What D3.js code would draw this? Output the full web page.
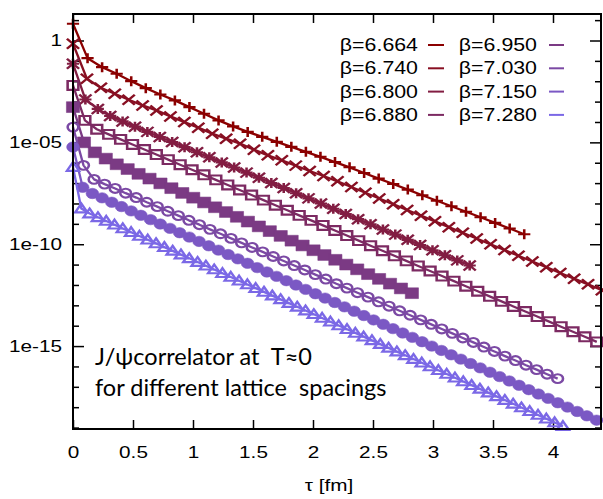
<!DOCTYPE html>
<html>
<head>
<meta charset="utf-8">
<script src="https://cdn.jsdelivr.net/npm/d3@7"></script>
<style>
  body { margin: 0; background: #fff; }
  svg { display: block; }
  text { white-space: pre; }
</style>
</head>
<body>
<svg id="chart" width="603" height="499"></svg>
<script>
// Gauge couplings of the zero-temperature ensembles
const betas = ["6.664", "6.740", "6.800", "6.880", "6.950", "7.030", "7.150", "7.280"];

// Lattice spacing a [fm] of each ensemble; the correlator is sampled at tau = n*a
const latticeSpacing = [0.1213, 0.1160, 0.1033, 0.0992, 0.0911, 0.0878, 0.0808, 0.0692];

// J/psi correlators G(tau) (rescaled per ensemble for readability)
const corr6664 = [6.59, 1.36e-1, 4.91e-2, 2.33e-2, 1.01e-2, 4.59e-3, 2.25e-3, 1.15e-3, 5.37e-4, 2.55e-4,
  1.20e-4, 6.08e-5, 3.27e-5, 1.86e-5, 1.06e-5, 6.01e-6, 3.42e-6, 1.95e-6, 1.08e-6, 5.96e-7,
  3.13e-7, 1.66e-7, 9.04e-8, 4.80e-8, 2.52e-8, 1.36e-8, 7.30e-9, 3.92e-9, 2.11e-9, 1.11e-9,
  5.89e-10, 3.09e-10];
const corr6740 = [0.689, 1.33e-2, 4.80e-3, 2.44e-3, 1.24e-3, 6.51e-4, 3.71e-4, 1.88e-4, 9.89e-5, 5.26e-5,
  2.67e-5, 1.52e-5, 8.63e-6, 4.39e-6, 2.31e-6, 1.31e-6, 7.21e-7, 3.92e-7, 2.23e-7, 1.22e-7,
  6.44e-8, 3.35e-8, 1.76e-8, 9.25e-9, 4.80e-9, 2.52e-9, 1.33e-9, 6.89e-10, 3.62e-10, 1.90e-10,
  9.89e-11, 5.20e-11, 2.70e-11, 1.42e-11, 7.46e-12, 3.87e-12, 2.04e-12, 1.07e-12, 5.56e-13];
const corr6800 = [7.21e-2, 1.28e-3, 4.39e-4, 1.99e-4, 1.07e-4, 5.89e-5, 3.27e-5, 1.84e-5, 1.04e-5, 5.82e-6,
  3.27e-6, 1.84e-6, 1.04e-6, 5.82e-7, 3.27e-7, 1.84e-7, 1.02e-7, 5.75e-8, 3.20e-8, 1.78e-8,
  9.89e-9, 5.50e-9, 3.05e-9, 1.70e-9, 9.44e-10, 5.26e-10, 2.96e-10, 1.64e-10, 9.14e-11, 5.08e-11,
  2.86e-11, 1.61e-11, 9.04e-12];
const corr6880 = [6.22e-3, 1.20e-4, 4.41e-5, 2.48e-5, 1.40e-5, 7.91e-6, 4.47e-6, 2.52e-6, 1.42e-6, 8.02e-7,
  4.53e-7, 2.55e-7, 1.44e-7, 8.13e-8, 4.59e-8, 2.59e-8, 1.46e-8, 8.24e-9, 4.66e-9, 2.62e-9,
  1.48e-9, 8.36e-10, 4.72e-10, 2.66e-10, 1.50e-10, 8.47e-11, 4.79e-11, 2.70e-11, 1.52e-11, 8.59e-12,
  4.85e-12, 2.74e-12, 1.55e-12, 8.71e-13, 4.92e-13, 2.77e-13, 1.57e-13, 8.83e-14, 4.99e-14, 2.81e-14,
  1.59e-14, 8.95e-15, 5.06e-15, 2.85e-15, 1.61e-15];
const corr6950 = [5.37e-4, 1.00e-5, 3.24e-6, 1.59e-6, 8.38e-7, 4.89e-7, 2.85e-7, 1.66e-7, 9.68e-8, 5.64e-8,
  3.29e-8, 1.92e-8, 1.12e-8, 6.52e-9, 3.80e-9, 2.21e-9, 1.29e-9, 7.52e-10, 4.39e-10, 2.56e-10,
  1.49e-10, 8.69e-11, 5.06e-11, 2.95e-11, 1.72e-11, 1.00e-11, 5.85e-12, 3.40e-12, 1.99e-12, 1.16e-12,
  6.75e-13, 3.94e-13];
const corr7030 = [5.62e-5, 7.46e-7, 1.52e-7, 8.90e-8, 5.45e-8, 3.20e-8, 1.95e-8, 1.15e-8, 7.00e-9, 4.15e-9,
  2.52e-9, 1.49e-9, 9.10e-10, 5.38e-10, 3.26e-10, 1.93e-10, 1.17e-10, 6.95e-11, 4.20e-11, 2.50e-11,
  1.51e-11, 8.98e-12, 5.44e-12, 3.22e-12, 1.95e-12, 1.15e-12, 7.01e-13, 4.16e-13, 2.53e-13, 1.49e-13,
  9.06e-14, 5.38e-14, 3.26e-14, 1.93e-14, 1.17e-14, 6.94e-15, 4.21e-15, 2.49e-15, 1.51e-15, 8.97e-16,
  5.44e-16, 3.22e-16, 1.95e-16, 1.15e-16, 7.02e-17, 4.16e-17, 2.52e-17];
const corr7150 = [5.89e-6, 6.22e-8, 3.09e-8, 1.89e-8, 1.15e-8, 7.05e-9, 4.31e-9, 2.63e-9, 1.61e-9, 9.82e-10,
  6.00e-10, 3.66e-10, 2.24e-10, 1.37e-10, 8.36e-11, 5.11e-11, 3.12e-11, 1.91e-11, 1.16e-11, 7.11e-12,
  4.35e-12, 2.65e-12, 1.62e-12, 9.91e-13, 6.05e-13, 3.70e-13, 2.26e-13, 1.38e-13, 8.43e-14, 5.15e-14,
  3.15e-14, 1.92e-14, 1.17e-14, 7.18e-15, 4.39e-15, 2.68e-15, 1.64e-15, 1.00e-15, 6.11e-16, 3.73e-16,
  2.28e-16, 1.39e-16, 8.51e-17, 5.20e-17, 3.18e-17, 1.94e-17, 1.19e-17, 7.24e-18, 4.43e-18, 2.70e-18,
  1.65e-18, 1.01e-18, 6.17e-19, 3.77e-19, 2.30e-19];
const corr7280 = [6.15e-7, 5.62e-9, 3.20e-9, 2.10e-9, 1.38e-9, 9.04e-10, 5.93e-10, 3.88e-10, 2.55e-10, 1.67e-10,
  1.10e-10, 7.19e-11, 4.72e-11, 3.10e-11, 2.03e-11, 1.33e-11, 8.75e-12, 5.73e-12, 3.76e-12, 2.47e-12,
  1.62e-12, 1.06e-12, 6.97e-13, 4.57e-13, 3.00e-13, 1.97e-13, 1.29e-13, 8.45e-14, 5.55e-14, 3.64e-14,
  2.39e-14, 1.57e-14, 1.03e-14, 6.75e-15, 4.43e-15, 2.90e-15, 1.91e-15, 1.25e-15, 8.18e-16, 5.37e-16,
  3.52e-16, 2.31e-16, 1.52e-16, 9.95e-17, 6.53e-17, 4.29e-17, 2.81e-17, 1.84e-17, 1.21e-17, 7.93e-18,
  5.20e-18, 3.41e-18, 2.24e-18, 1.47e-18, 9.64e-19, 6.32e-19, 4.15e-19, 2.72e-19, 1.78e-19, 1.17e-19];

const correlators = [corr6664, corr6740, corr6800, corr6880, corr6950, corr7030, corr7150, corr7280];

// Axis ticks
const xTicks = [0, 0.5, 1, 1.5, 2, 2.5, 3, 3.5, 4];
const xTickLabels = ["0", "0.5", "1", "1.5", "2", "2.5", "3", "3.5", "4"];
const yTicks = [1, 1e-5, 1e-10, 1e-15];
const yTickLabels = ["1", "1e-05", "1e-10", "1e-15"];
const yMinorTicks = d3.range(-19, 2).filter(p => p % 5 !== 0).map(p => Math.pow(10, p));

const xTitle = "τ [fm]";
const noteLines = ["J/ψcorrelator at  T≈0", "for different lattice  spacings"];

// ---------- styling ----------
const palette = ["#8b0000", "#880f22", "#821d42", "#7c2a62", "#7b3a84", "#7b49a4", "#7b58c4", "#7b68e6"];
const symbols = ["plus", "cross", "star", "square", "squareFilled", "circle", "circleFilled", "triangle"];
const SX = 1.22;               // horizontal stretch of glyphs and markers
const labelFont = "'Liberation Sans', Arial, sans-serif";
const noteFont = "Lato, 'Open Sans', sans-serif";

const plot = { left: 73, right: 601, top: 14, bottom: 429 };

const svg = d3.select("#chart");

const x = d3.scaleLinear().domain([0, 4.4]).range([plot.left, plot.right]);
const y = d3.scaleLog().domain([8.5e-20, 20]).range([plot.bottom, plot.top]);

// ---------- axes ----------
function styleAxis(g) {
  g.select(".domain").remove();
  g.selectAll(".tick line").attr("stroke", "#000").attr("stroke-width", 1.5);
}

svg.append("g").attr("transform", `translate(0,${plot.bottom})`)
  .call(d3.axisBottom(x).tickValues(xTicks).tickFormat((d, i) => xTickLabels[i])
    .tickSizeInner(-9).tickSizeOuter(0).tickPadding(17))
  .call(styleAxis)
  .call(g => g.selectAll(".tick text")
    .attr("fill", "#000").attr("font-family", labelFont).attr("font-size", 17)
    .attr("transform", `scale(${SX},1)`));

svg.append("g").attr("transform", `translate(0,${plot.top})`)
  .call(d3.axisTop(x).tickValues(xTicks).tickFormat("").tickSizeInner(-9).tickSizeOuter(0))
  .call(styleAxis);

svg.append("g").attr("transform", `translate(${plot.left},0)`)
  .call(d3.axisLeft(y).tickValues(yTicks).tickFormat((d, i) => yTickLabels[i])
    .tickSizeInner(-11).tickSizeOuter(0).tickPadding(11))
  .call(styleAxis)
  .call(g => g.selectAll(".tick text")
    .attr("fill", "#000").attr("font-family", labelFont).attr("font-size", 17)
    .attr("x", -11 / SX).attr("transform", `scale(${SX},1)`));

svg.append("g").attr("transform", `translate(${plot.left},0)`)
  .call(d3.axisLeft(y).tickValues(yMinorTicks).tickFormat("").tickSizeInner(-6).tickSizeOuter(0))
  .call(styleAxis);

svg.append("g").attr("transform", `translate(${plot.right},0)`)
  .call(d3.axisRight(y).tickValues(yTicks).tickFormat("").tickSizeInner(-11).tickSizeOuter(0))
  .call(styleAxis);

svg.append("g").attr("transform", `translate(${plot.right},0)`)
  .call(d3.axisRight(y).tickValues(yMinorTicks).tickFormat("").tickSizeInner(-6).tickSizeOuter(0))
  .call(styleAxis);

// ---------- series ----------
const series = correlators.map((vals, i) => ({
  beta: betas[i],
  color: palette[i],
  symbol: symbols[i],
  points: vals.map((v, n) => ({ tau: n * latticeSpacing[i], value: v }))
}));

const line = d3.line().x(d => x(d.tau)).y(d => y(d.value));

function markerPath(kind) {
  const s = 5;
  switch (kind) {
    case "plus": return `M${-s},0H${s}M0,${-s}V${s}`;
    case "cross": return `M${-s},${-s}L${s},${s}M${-s},${s}L${s},${-s}`;
    case "star": return `M${-s},0H${s}M0,${-s}V${s}M${-s},${-s}L${s},${s}M${-s},${s}L${s},${-s}`;
    case "square": return `M-4.4,-4.4H4.4V4.4H-4.4Z`;
    case "squareFilled": return `M-5.4,-5.4H5.4V5.4H-5.4Z`;
    case "circle": return `M4.4,0A4.4,4.4 0 1,1 -4.4,0A4.4,4.4 0 1,1 4.4,0Z`;
    case "circleFilled": return `M5.2,0A5.2,5.2 0 1,1 -5.2,0A5.2,5.2 0 1,1 5.2,0Z`;
    case "triangle": return `M0,-5L5,3.8L-5,3.8Z`;
  }
}

const seriesG = svg.append("g");
series.forEach(s => {
  const g = seriesG.append("g");
  g.append("path").datum(s.points)
    .attr("d", line)
    .attr("fill", "none")
    .attr("stroke", s.color)
    .attr("stroke-width", 2.3)
    .attr("stroke-linejoin", "round");
  const filled = s.symbol === "squareFilled" || s.symbol === "circleFilled";
  g.selectAll("path.pt").data(s.points).join("path")
    .attr("class", "pt")
    .attr("d", markerPath(s.symbol))
    .attr("transform", d => `translate(${x(d.tau)},${y(d.value)}) scale(${SX},1)`)
    .attr("fill", filled ? s.color : "none")
    .attr("stroke", s.color)
    .attr("stroke-width", filled ? 0.5 : 2.1);
});

// ---------- frame ----------
svg.append("rect")
  .attr("x", plot.left).attr("y", plot.top)
  .attr("width", plot.right - plot.left).attr("height", plot.bottom - plot.top)
  .attr("fill", "none").attr("stroke", "#000").attr("stroke-width", 2);

// ---------- legend ----------
const legend = svg.append("g");
const legendCols = [{ textRight: 418, x1: 428, x2: 444 }, { textRight: 537, x1: 549, x2: 564 }];
series.forEach((s, i) => {
  const col = legendCols[Math.floor(i / 4)];
  const yy = 45 + (i % 4) * 23.3;
  legend.append("text")
    .attr("transform", `translate(${col.textRight},${yy}) scale(${SX},1)`)
    .attr("text-anchor", "end").attr("dy", "0.35em")
    .attr("font-family", labelFont).attr("font-size", 17.5).attr("fill", "#000")
    .text(`β=${s.beta}`);
  legend.append("line")
    .attr("x1", col.x1).attr("x2", col.x2).attr("y1", yy).attr("y2", yy)
    .attr("stroke", s.color).attr("stroke-width", 2);
});

// ---------- titles ----------
svg.append("text")
  .attr("transform", `translate(${(plot.left + plot.right) / 2 - 8},491) scale(${SX},1)`)
  .attr("text-anchor", "middle")
  .attr("font-family", labelFont).attr("font-size", 17).attr("fill", "#000")
  .text(xTitle);

noteLines.forEach((t, i) => {
  svg.append("text")
    .attr("transform", `translate(95,${365 + i * 31}) scale(0.98,1)`)
    .attr("font-family", noteFont).attr("font-size", 24).attr("fill", "#000")
    .text(t);
});
</script>
</body>
</html>
